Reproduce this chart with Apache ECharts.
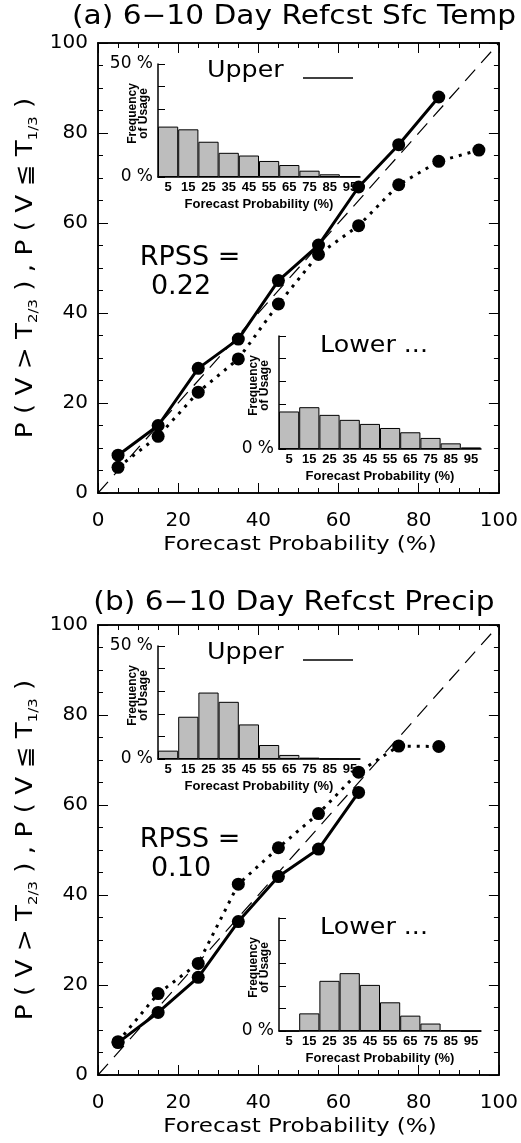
<!DOCTYPE html>
<html>
<head>
<meta charset="utf-8">
<script src="https://cdn.jsdelivr.net/npm/echarts@6/dist/echarts.min.js"></script>
<style>
  html, body { margin: 0; padding: 0; background: #fff; }
  #chart { width: 521px; height: 1143px; }
</style>
</head>
<body>
<div id="chart"></div>
<script>
// forecast probability bins (%)
var probs = [5, 15, 25, 35, 45, 55, 65, 75, 85, 95];
var binLabels = ['5', '15', '25', '35', '45', '55', '65', '75', '85', '95'];

// (a) surface temperature: observed relative frequency (%)
var tempUpper = [8.4, 15.0, 27.7, 34.2, 47.2, 55.1, 68.0, 77.4, 88.0];
var tempLower = [5.7, 12.6, 22.4, 29.8, 42.0, 53.0, 59.4, 68.5, 73.7, 76.2];
// (a) frequency of usage (%)
var tempUpperUsage = [22.3, 21.1, 15.6, 10.7, 9.5, 7.1, 5.3, 2.8, 1.2, 0.3];
var tempLowerUsage = [16.6, 18.5, 15.1, 12.9, 11.1, 9.3, 7.4, 4.9, 2.5, 0.7];

// (b) precipitation
var precUpper = [7.2, 13.9, 21.7, 34.1, 44.1, 50.2, 62.8];
var precLower = [7.4, 18.1, 24.8, 42.4, 50.5, 58.1, 67.3, 73.1, 73.0];
var precUpperUsage = [3.7, 18.7, 29.4, 25.3, 15.3, 6.2, 1.8, 0.6, 0.1, 0];
var precLowerUsage = [0, 7.8, 22.2, 25.6, 20.4, 12.7, 6.8, 3.3, 0.4, 0];

var diagonal = [0, 100];

var FONT = 'DejaVu Sans';
var BOLD = 'Liberation Sans';

var grids = [], xAxes = [], yAxes = [], series = [], graphics = [];

function pairs(vals) {
    return vals.map(function (v, i) { return [probs[i], v]; });
}

function frameAxis(g, pos, interval, len, label) {
    var ax = {
        type: 'value', gridIndex: g, min: 0, max: 100, interval: interval, position: pos,
        axisLine: { show: true, onZero: false, lineStyle: { color: '#000', width: 1.5 } },
        axisTick: { show: true, inside: true, length: len, lineStyle: { color: '#000', width: 1 } },
        splitLine: { show: false },
        axisLabel: { show: false }
    };
    if (label) ax.axisLabel = label;
    return ax;
}

// main reliability diagram
function mainPlot(top, upper, lower) {
    var g = grids.length;
    grids.push({ left: 98, top: top, width: 404, height: 450 });
    var xi = xAxes.length, yi = yAxes.length;
    xAxes.push(frameAxis(g, 'bottom', 20, 10, { color: '#000', fontFamily: FONT, fontSize: 20, margin: 18 }));
    xAxes.push(frameAxis(g, 'top', 20, 10));
    xAxes.push(frameAxis(g, 'bottom', 5, 5));
    xAxes.push(frameAxis(g, 'top', 5, 5));
    yAxes.push(frameAxis(g, 'left', 20, 10, { color: '#000', fontFamily: FONT, fontSize: 20, margin: 10 }));
    yAxes.push(frameAxis(g, 'right', 20, 10));
    yAxes.push(frameAxis(g, 'left', 5, 5));
    yAxes.push(frameAxis(g, 'right', 5, 5));

    series.push({
        type: 'line', xAxisIndex: xi, yAxisIndex: yi, symbol: 'none', silent: true,
        data: [[diagonal[0], diagonal[0]], [diagonal[1], diagonal[1]]],
        lineStyle: { color: '#000', width: 1.2, type: [15, 9] }
    });
    series.push({
        type: 'line', xAxisIndex: xi, yAxisIndex: yi, data: pairs(lower),
        symbol: 'circle', symbolSize: 13, itemStyle: { color: '#000' },
        lineStyle: { color: '#000', width: 3, type: [3, 6] }
    });
    series.push({
        type: 'line', xAxisIndex: xi, yAxisIndex: yi, data: pairs(upper),
        symbol: 'circle', symbolSize: 13, itemStyle: { color: '#000' },
        lineStyle: { color: '#000', width: 3 }
    });
}

// frequency of usage histogram
function inset(left, top, usage, showTop) {
    var g = grids.length;
    grids.push({ left: left, top: top, width: 202, height: 113 });
    var xi = xAxes.length, yi = yAxes.length;
    xAxes.push({
        type: 'category', gridIndex: g, data: binLabels, boundaryGap: true,
        axisLine: { show: true, lineStyle: { color: '#000', width: 1.5 } },
        axisTick: { show: false },
        axisLabel: { color: '#000', fontFamily: BOLD, fontWeight: 'bold', fontSize: 13, margin: 4, interval: 0 },
        name: 'Forecast Probability (%)', nameLocation: 'middle', nameGap: 21, nameMoveOverlap: false,
        nameTextStyle: { color: '#000', fontFamily: BOLD, fontWeight: 'bold', fontSize: 13 }
    });
    yAxes.push({
        type: 'value', gridIndex: g, min: 0, max: 50, interval: 10,
        axisLine: { show: true, lineStyle: { color: '#000', width: 1.5 } },
        axisTick: { show: true, inside: true, length: 7, lineStyle: { color: '#000' } },
        splitLine: { show: false },
        axisLabel: {
            color: '#000', fontFamily: FONT, fontSize: 17, margin: 5,
            formatter: function (v) { return (v === 0 || (showTop && v === 50)) ? v + ' %' : ''; }
        },
        name: 'Frequency\nof Usage', nameLocation: 'middle', nameGap: 9, nameRotate: 90, nameMoveOverlap: false,
        nameTextStyle: { color: '#000', fontFamily: BOLD, fontWeight: 'bold', fontSize: 12, lineHeight: 11, padding: [0, 0, 0, 14] }
    });
    series.push({
        type: 'bar', xAxisIndex: xi, yAxisIndex: yi, data: usage, barCategoryGap: '0%',
        itemStyle: { color: '#bdbdbd', borderColor: '#000', borderWidth: 1 }
    });
}

function text(x, y, str, size, align, sx) {
    graphics.push({
        type: 'text', x: x, y: y, z: 10, scaleX: sx || 1,
        style: { text: str, fill: '#000', font: size + 'px "' + FONT + '"', textAlign: align || 'left', textVerticalAlign: 'middle' }
    });
}

function panel(dy, title, rpss, upper, lower, upperUsage, lowerUsage) {
    mainPlot(43 + dy, upper, lower);
    inset(158, 64 + dy, upperUsage, true);
    inset(279, 336 + dy, lowerUsage, false);
    text(294, 17 + dy + (dy ? 4 : 0), title, 26, 'center', 1.14);
    text(300, 545 + dy, 'Forecast Probability (%)', 20, 'center', 1.15);
    graphics.push({
        type: 'text', x: 26, y: 268 + dy, rotation: Math.PI / 2, scaleX: 1.14, z: 10,
        style: {
            text: '{n|P ( V > T}{s|2/3}{n| ) , P ( V ≦ T}{s|1/3}{n| )}',
            textAlign: 'center', textVerticalAlign: 'middle',
            rich: {
                n: { fontFamily: FONT, fontSize: 23, fill: '#000', lineHeight: 28 },
                s: { fontFamily: FONT, fontSize: 13, fill: '#000', lineHeight: 15, verticalAlign: 'bottom' }
            }
        }
    });
    text(190, 258 + dy, 'RPSS =', 27, 'center');
    text(181, 287 + dy, rpss, 27, 'center');
    text(207, 71 + dy, 'Upper', 23, 'left', 1.1);
    graphics.push({
        type: 'line', z: 10, shape: { x1: 303, y1: 78 + dy, x2: 353, y2: 78 + dy },
        style: { stroke: '#000', lineWidth: 1.5 }
    });
    text(320, 346 + dy, 'Lower ...', 23, 'left', 1.1);
}

panel(0, '(a) 6−10 Day Refcst Sfc Temp', '0.22', tempUpper, tempLower, tempUpperUsage, tempLowerUsage);
panel(582, '(b) 6−10 Day Refcst Precip', '0.10', precUpper, precLower, precUpperUsage, precLowerUsage);

var chart = echarts.init(document.getElementById('chart'), null, { renderer: 'canvas' });
chart.setOption({
    backgroundColor: '#fff',
    animation: false,
    grid: grids,
    xAxis: xAxes,
    yAxis: yAxes,
    series: series,
    graphic: graphics
});
</script>
</body>
</html>
